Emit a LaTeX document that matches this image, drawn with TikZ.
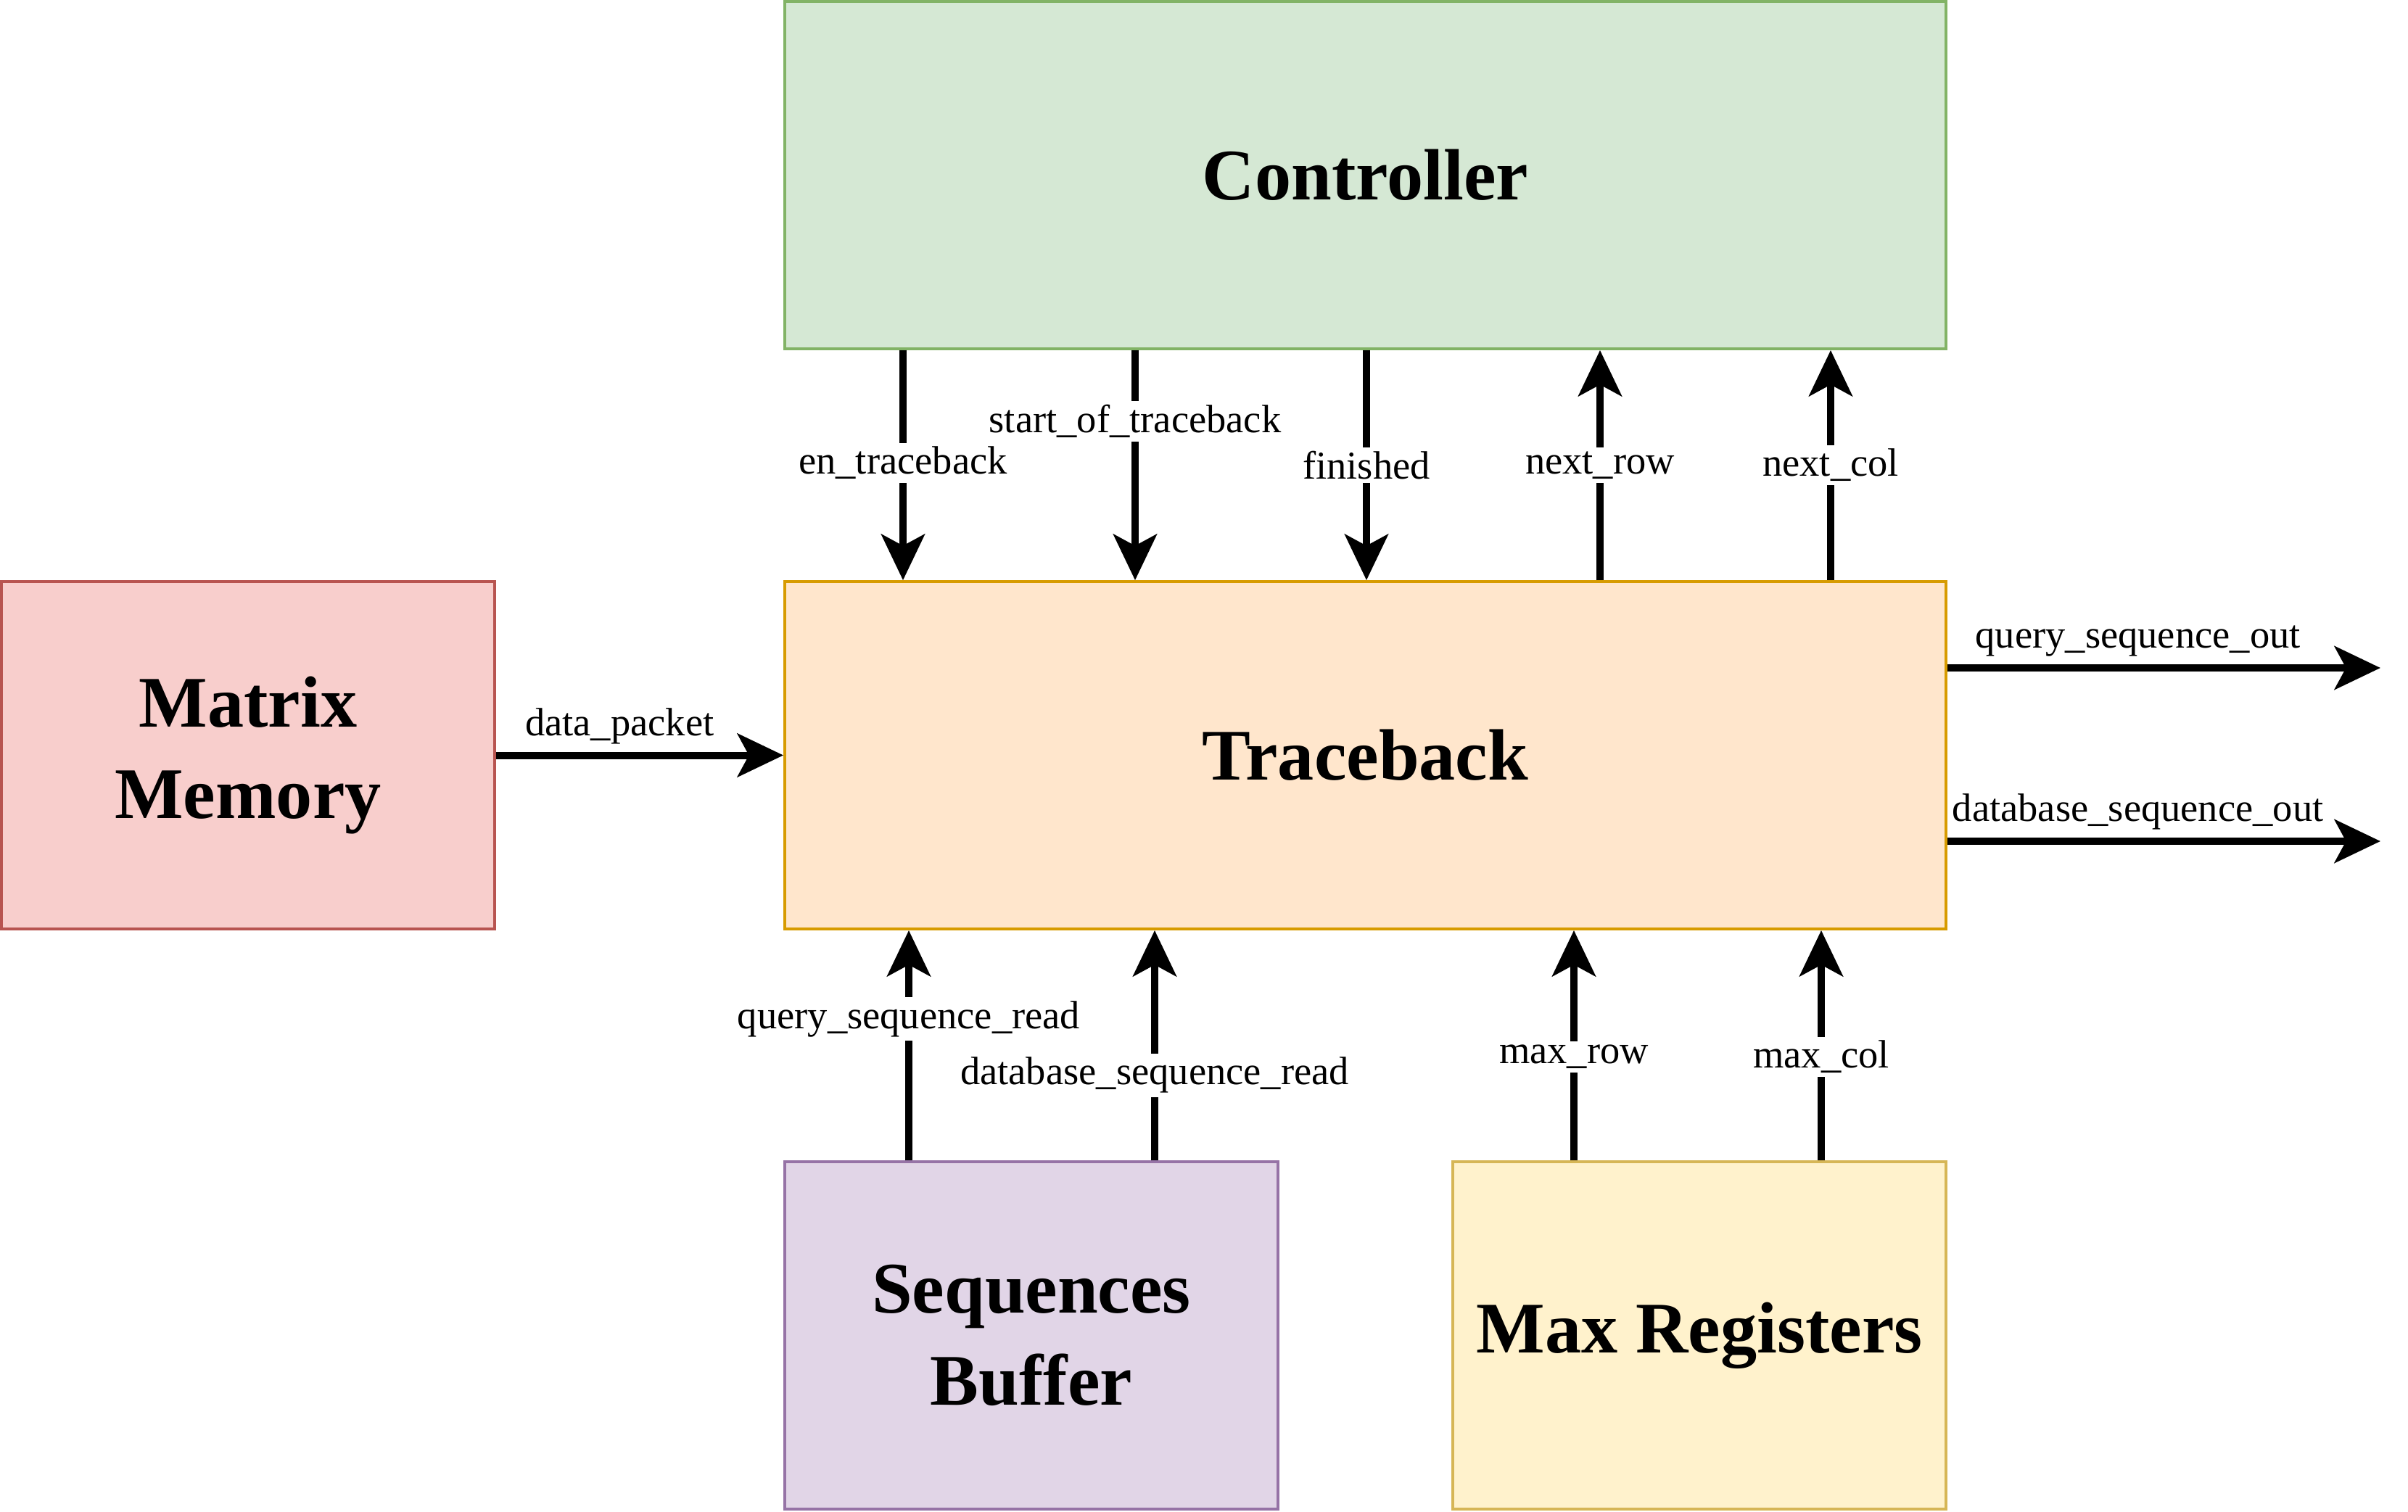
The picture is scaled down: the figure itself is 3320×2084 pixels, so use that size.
\documentclass[tikz,border=0pt]{standalone}
\usepackage{fontspec}
\setmainfont{Liberation Serif}
\usetikzlibrary{arrows.meta}
\definecolor{gfill}{HTML}{D5E8D4}\definecolor{gline}{HTML}{82B366}
\definecolor{ofill}{HTML}{FFE6CC}\definecolor{oline}{HTML}{D79B00}
\definecolor{rfill}{HTML}{F8CECC}\definecolor{rline}{HTML}{B85450}
\definecolor{pfill}{HTML}{E1D5E7}\definecolor{pline}{HTML}{9673A6}
\definecolor{yfill}{HTML}{FFF2CC}\definecolor{yline}{HTML}{D6B656}
\tikzset{
  blk/.style={draw, line width=1.1pt, inner sep=0pt, align=center,
    font=\fontsize{28.5}{36}\selectfont\bfseries},
  arr/.style={line width=2.85pt, -{Stealth[length=18pt,width=17pt,inset=4.5pt]}},
  lbl/.style={fill=white, inner sep=1.5pt, font=\fontsize{15.5}{18}\selectfont},
  lblab/.style={inner sep=3pt, font=\fontsize{15.5}{18}\selectfont, above}
}
\begin{document}
\begin{tikzpicture}[x=0.01cm,y=-0.01cm]
\useasboundingbox (0,0) rectangle (3320,2084);
% boxes (corner coordinates, px of reference)
\node[blk, fill=gfill, draw=gline, minimum width=1601*0.01cm, minimum height=479*0.01cm] (ctrl) at (1882.5,241.5) {Controller};
\node[blk, fill=ofill, draw=oline, minimum width=1601*0.01cm, minimum height=479*0.01cm] (tb) at (1882.5,1041.5) {Traceback};
\node[blk, fill=rfill, draw=rline, minimum width=680*0.01cm, minimum height=479*0.01cm] (mm) at (342,1041.5) {Matrix\\Memory};
\node[blk, fill=pfill, draw=pline, minimum width=680*0.01cm, minimum height=479*0.01cm] (sb) at (1422,1841.5) {Sequences\\Buffer};
\node[blk, fill=yfill, draw=yline, minimum width=680*0.01cm, minimum height=479*0.01cm] (mr) at (2343,1841.5) {Max Registers};
% x positions of the vertical connectors
\coordinate (xa) at (1245,0);
\coordinate (xb) at (1565,0);
\coordinate (xc) at (1884,0);
\coordinate (xd) at (2206,0);
\coordinate (xe) at (2524,0);
\coordinate (xf) at (1253,0);
\coordinate (xg) at (1592,0);
\coordinate (xh) at (2170,0);
\coordinate (xi) at (2511,0);
\coordinate (o1) at (3282,921);
\coordinate (o2) at (3282,1160);
% top connectors
\draw[arr] (ctrl.south -| xa) -- node[lbl, pos=0.49] {en\_traceback} (tb.north -| xa);
\draw[arr] (ctrl.south -| xb) -- node[lbl, pos=0.31] {start\_of\_traceback} (tb.north -| xb);
\draw[arr] (ctrl.south -| xc) -- node[lbl, pos=0.5] {finished} (tb.north -| xc);
\draw[arr] (tb.north -| xd) -- node[lbl, pos=0.5] {next\_row} (ctrl.south -| xd);
\draw[arr] (tb.north -| xe) -- node[lbl, pos=0.5] {next\_col} (ctrl.south -| xe);
% bottom connectors
\draw[arr] (sb.north -| xf) -- node[lbl, pos=0.615] {query\_sequence\_read} (tb.south -| xf);
\draw[arr] (sb.north -| xg) -- node[lbl, pos=0.37] {database\_sequence\_read} (tb.south -| xg);
\draw[arr] (mr.north -| xh) -- node[lbl, pos=0.45] {max\_row} (tb.south -| xh);
\draw[arr] (mr.north -| xi) -- node[lbl, pos=0.45] {max\_col} (tb.south -| xi);
% horizontal connectors
\draw[arr] (mm.east) -- node[lblab, pos=0.43] {data\_packet} (tb.west);
\draw[arr] (tb.east |- o1) -- node[lblab, pos=0.44] {query\_sequence\_out} (o1);
\draw[arr] (tb.east |- o2) -- node[lblab, pos=0.44] {database\_sequence\_out} (o2);
\end{tikzpicture}
\end{document}
